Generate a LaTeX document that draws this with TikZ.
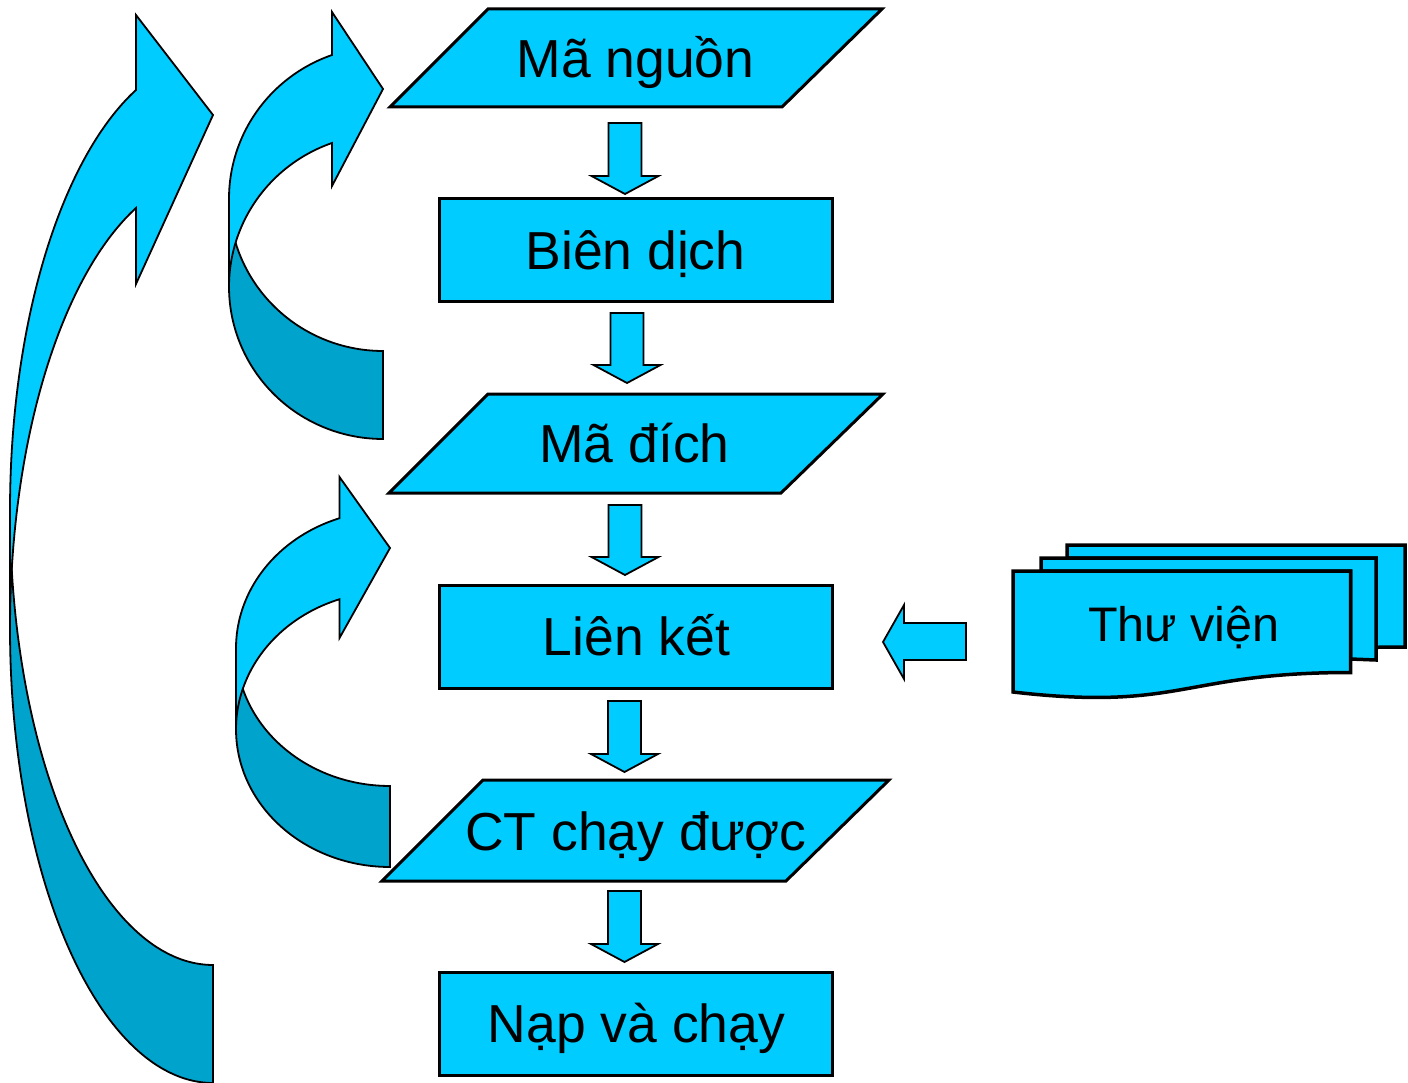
\documentclass[tikz,border=0pt]{standalone}
\usepackage{fontspec}
\setmainfont{Liberation Sans}
\definecolor{lightc}{RGB}{0,204,255}
\definecolor{darkc}{RGB}{0,163,204}
\tikzset{
  boxshape/.style={fill=lightc, draw=black, line width=3pt, line join=miter},
  blk/.style={fill=lightc, draw=black, line width=1.8pt, line join=miter},
  litface/.style={fill=lightc, draw=black, line width=1.8pt, line join=miter},
  drkface/.style={fill=darkc, draw=black, line width=1.8pt, line join=miter},
  docshape/.style={fill=lightc, draw=black, line width=3.5pt, line join=miter},
  lbl/.style={inner sep=0pt, anchor=base, text=black, font=\fontsize{53.5}{60}\selectfont},
  lbls/.style={inner sep=0pt, anchor=base, text=black, font=\fontsize{48.5}{56}\selectfont},
}
\newcommand{\blkdown}[3]{%
  \filldraw[blk] (#1-16.5,#2) -- (#1+16.5,#2) -- (#1+16.5,#3-18) -- (#1+33.5,#3-18)
    -- (#1,#3) -- (#1-33.5,#3-18) -- (#1-16.5,#3-18) -- cycle;}
\begin{document}
\begin{tikzpicture}[x=1pt,y=-1pt]
\useasboundingbox (0,0) rectangle (1408,1083);

% ---- big curved arrow ----
\filldraw[drkface] plot[domain=90:180, samples=80, variable=\t] ({213+203*cos(\t)},{510.5+454.5*sin(\t)})
  -- plot[domain=180:90, samples=80, variable=\t] ({213+203*cos(\t)},{628.5+454.5*sin(\t)}) -- cycle;
\filldraw[litface] plot[domain=180:247.71, samples=80, variable=\t] ({213+203*cos(\t)},{510.5+454.5*sin(\t)})
  -- (136,15) -- (213,115) -- (136,284)
  -- plot[domain=247.71:180, samples=80, variable=\t] ({213+203*cos(\t)},{628.5+454.5*sin(\t)}) -- cycle;

% ---- small curved arrow 1 ----
\filldraw[drkface] plot[domain=90:180, samples=60, variable=\t] ({383+154*cos(\t)},{198.7+152.3*sin(\t)})
  -- plot[domain=180:90, samples=60, variable=\t] ({383+154*cos(\t)},{286.7+152.3*sin(\t)}) -- cycle;
\filldraw[litface] plot[domain=180:250.66, samples=60, variable=\t] ({383+154*cos(\t)},{198.7+152.3*sin(\t)})
  -- (332,12) -- (383,89) -- (332,186)
  -- plot[domain=250.66:180, samples=60, variable=\t] ({383+154*cos(\t)},{286.7+152.3*sin(\t)}) -- cycle;

% ---- small curved arrow 2 ----
\filldraw[drkface] plot[domain=90:180, samples=60, variable=\t] ({390+154*cos(\t)},{648.3+137.7*sin(\t)})
  -- plot[domain=180:90, samples=60, variable=\t] ({390+154*cos(\t)},{729.3+137.7*sin(\t)}) -- cycle;
\filldraw[litface] plot[domain=180:250.86, samples=60, variable=\t] ({390+154*cos(\t)},{648.3+137.7*sin(\t)})
  -- (339.5,477) -- (390,548) -- (339.5,638)
  -- plot[domain=250.86:180, samples=60, variable=\t] ({390+154*cos(\t)},{729.3+137.7*sin(\t)}) -- cycle;

% ---- flow boxes ----
\filldraw[boxshape] (488,9) -- (882,9) -- (782,107) -- (390,107) -- cycle;
\node[lbl] (src) at (635.5,78) {Mã nguồn};

\filldraw[boxshape] (439,199) rectangle (832,302);
\node[lbl] (comp) at (635.5,269.5) {Biên dịch};

\filldraw[boxshape] (488,394) -- (883,394) -- (781,493) -- (389,493) -- cycle;
\node[lbl] (obj) at (634.5,462.5) {Mã đích};

\filldraw[boxshape] (439,585) rectangle (832,688);
\node[lbl] (link) at (636.5,655.5) {Liên kết};

\filldraw[boxshape] (483,780) -- (889,780) -- (786,881) -- (382,881) -- cycle;
\node[lbl] (exe) at (636,850) {CT chạy được};

\filldraw[boxshape] (439,972) rectangle (832,1075);
\node[lbl] (run) at (636.5,1042.5) {Nạp và chạy};

% ---- block arrows ----
\blkdown{625}{123}{194}
\blkdown{627}{313}{383}
\blkdown{625}{505}{575}
\blkdown{624.5}{701}{772}
\blkdown{624.5}{891}{962}

\filldraw[blk] (883,642) -- (904,605) -- (904,623) -- (966,623) -- (966,660) -- (904,660) -- (904,679) -- cycle;

% ---- library (multi-document) ----
\filldraw[docshape] (1067,558) -- (1067,545) -- (1405,545) -- (1405,647)
  .. controls (1390,647) and (1376,647.3) .. (1376,647.3) -- (1376,558) -- cycle;
\filldraw[docshape] (1041,571) -- (1041,558) -- (1376,558) -- (1376,660)
  .. controls (1363,659.5) and (1350.5,659) .. (1350.5,659) -- (1350.5,571) -- cycle;
\filldraw[docshape] (1013,692) .. controls (1181.7,711.5) and (1181.7,672.5) .. (1350.5,672.5)
  -- (1350.5,571) -- (1013,571) -- cycle;
\node[lbls] (lib) at (1184,641) {Thư viện};
\end{tikzpicture}
\end{document}
